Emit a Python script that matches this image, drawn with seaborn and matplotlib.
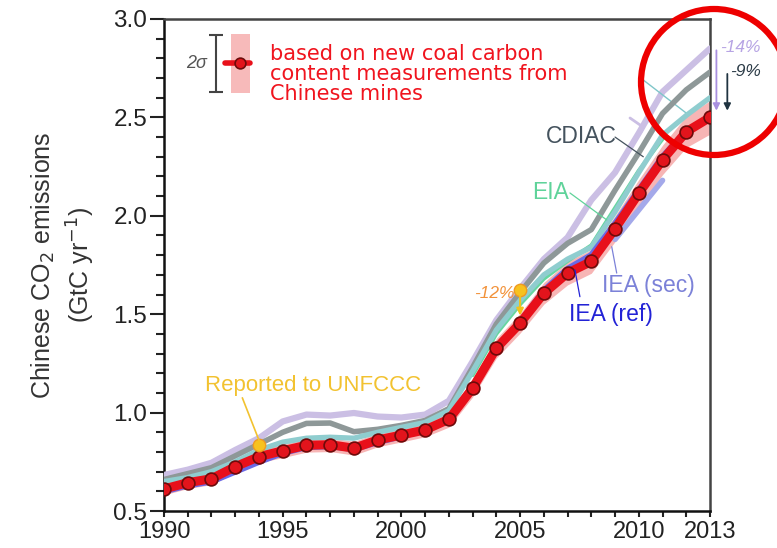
import numpy as np
import pandas as pd
import matplotlib
matplotlib.use("Agg")
import matplotlib.pyplot as plt
import seaborn as sns
from matplotlib.patches import Ellipse, Rectangle
from matplotlib.ticker import MultipleLocator, FixedLocator

# ---------------- data ----------------
years = list(range(1990, 2014))
new_coal = [0.612, 0.644, 0.664, 0.725, 0.776, 0.806, 0.834, 0.837, 0.819, 0.861,
            0.886, 0.912, 0.966, 1.124, 1.327, 1.454, 1.606, 1.709, 1.768, 1.934,
            2.114, 2.284, 2.427, 2.500]
new_coal_unc = [0.03, 0.03, 0.03, 0.03, 0.03, 0.035, 0.035, 0.035, 0.035, 0.035,
                0.035, 0.035, 0.04, 0.045, 0.05, 0.05, 0.055, 0.06, 0.06, 0.065,
                0.07, 0.075, 0.08, 0.085]
top_series = [0.683, 0.710, 0.745, 0.810, 0.870, 0.955, 0.990, 0.985, 0.998, 0.980,
              0.975, 0.990, 1.060, 1.260, 1.470, 1.630, 1.780, 1.890, 2.080, 2.220,
              2.420, 2.630, 2.740, 2.850]
cdiac = [0.660, 0.690, 0.720, 0.780, 0.840, 0.900, 0.945, 0.947, 0.903, 0.915,
         0.935, 0.960, 1.020, 1.230, 1.450, 1.610, 1.760, 1.860, 1.930, 2.130,
         2.320, 2.520, 2.640, 2.730]
teal = [0.650, 0.670, 0.700, 0.750, 0.810, 0.850, 0.870, 0.875, 0.870, 0.900,
        0.925, 0.950, 1.010, 1.210, 1.420, 1.570, 1.700, 1.780, 1.840, 2.020,
        2.220, 2.410, 2.510, 2.600]
eia_years = list(range(2003, 2012))
eia = [1.190, 1.400, 1.550, 1.680, 1.770, 1.850, 2.040, 2.230, 2.390]
iea_ref = [0.600, 0.630, 0.650, 0.700, 0.750, 0.795, 0.825, 0.830, 0.815, 0.850,
           0.880, 0.910, 0.960, 1.120, 1.320, 1.460, 1.620, 1.730, 1.800, 1.960,
           2.130, 2.300, 2.430]
iea_sec_years = [2009, 2010, 2011]
iea_sec = [1.880, 2.030, 2.180]
unfccc_year, unfccc_val = 1994, 0.835
alt2005_year, alt2005_val = 2005, 1.623

x_ticks = [1990, 1995, 2000, 2005, 2010, 2013]
y_ticks = [0.5, 1.0, 1.5, 2.0, 2.5, 3.0]

# ---------------- style ----------------
sns.set_style("ticks")
plt.rcParams['font.family'] = ['Liberation Sans', 'DejaVu Sans']

fig = plt.figure(figsize=(7.77, 5.48), dpi=100)
ax = fig.add_axes([164/777, 1-511/548, (710-164)/777, (511-19)/548])

df_main = pd.DataFrame({"year": years, "new": new_coal,
                        "lo": np.array(new_coal) - np.array(new_coal_unc),
                        "hi": np.array(new_coal) + np.array(new_coal_unc),
                        "top": top_series, "cdiac": cdiac, "teal": teal})

# uncertainty band
ax.fill_between(df_main["year"], df_main["lo"], df_main["hi"], color="#f5a3a3",
                alpha=0.8, lw=0, zorder=2)

sns.lineplot(data=df_main, x="year", y="top", ax=ax, color="#cbbfe4", lw=4.5, zorder=3)
sns.lineplot(data=df_main, x="year", y="cdiac", ax=ax, color="#8e9898", lw=4.0, zorder=4)
sns.lineplot(x=eia_years, y=eia, ax=ax, color="#66d6a0", lw=2.8, zorder=4.5)
sns.lineplot(data=df_main, x="year", y="teal", ax=ax, color="#8fcdcf", lw=3.8, zorder=5)
sns.lineplot(x=years[:len(iea_ref)], y=iea_ref, ax=ax, color="#6a6ae6", lw=4.5, zorder=6)
sns.lineplot(x=iea_sec_years, y=iea_sec, ax=ax, color="#a4a9ea", lw=4.0, zorder=6)
sns.lineplot(data=df_main, x="year", y="new", ax=ax, color="#e8101a", lw=6.5, zorder=7)
sns.scatterplot(data=df_main, x="year", y="new", ax=ax, s=85, color="#e2141c",
                edgecolor="#6e0a0a", linewidth=1.2, zorder=8)

# reported points
ax.scatter([unfccc_year], [unfccc_val], s=80, color="#f7c21e", edgecolor="#f09a20",
           linewidth=1.0, zorder=9)
ax.scatter([alt2005_year], [alt2005_val], s=80, color="#f7c21e", edgecolor="#f09a20",
           linewidth=1.0, zorder=9)
ax.annotate("", xy=(alt2005_year, new_coal[15] + 0.025), xytext=(alt2005_year, alt2005_val - 0.02),
            arrowprops=dict(arrowstyle="-|>", color="#f2c21c", lw=1.5, mutation_scale=10), zorder=9)

# axes
ax.set_xlim(1990, 2013)
ax.set_ylim(0.5, 3.0)
ax.set_xlabel("")
ax.set_ylabel("Chinese CO$_2$ emissions\n(GtC yr$^{-1}$)", fontsize=18, color="#333333",
              labelpad=12, linespacing=1.3)
ax.xaxis.set_major_locator(FixedLocator(x_ticks))
ax.xaxis.set_minor_locator(MultipleLocator(1))
ax.yaxis.set_major_locator(FixedLocator(y_ticks))
ax.yaxis.set_minor_locator(MultipleLocator(0.1))
ax.set_xticklabels([str(t) for t in x_ticks])
ax.set_yticklabels([f"{t:.1f}" for t in y_ticks])
ax.tick_params(axis="y", which="major", length=10, width=1.5, labelsize=17.5,
               colors="#222222", pad=2)
ax.tick_params(axis="y", which="minor", length=5.5, width=1.5, colors="#222222")
ax.tick_params(axis="x", which="both", length=4.5, width=1.5, labelsize=17,
               colors="#222222", pad=3)
for s in ["left", "bottom"]:
    ax.spines[s].set_linewidth(1.8)
    ax.spines[s].set_color("#111111")
for s in ["top", "right"]:
    ax.spines[s].set_visible(True)
    ax.spines[s].set_linewidth(1.8)
    ax.spines[s].set_color("#444444")

# labels
lab_kw = dict(fontsize=16.5, va="center", ha="left", zorder=10)
ax.text(2006.1, 2.405, "CDIAC", color="#45535e", **lab_kw)
ax.plot([2009.0, 2010.19], [2.40, 2.30], color="#45535e", lw=0.9, zorder=10)
ax.text(2005.5, 2.116, "EIA", color="#5fd39a", **lab_kw)
ax.plot([2007.1, 2008.65], [2.116, 1.979], color="#5fd39a", lw=0.9, zorder=10)
ax.text(2008.45, 1.648, "IEA (sec)", color="#7c82d8", **lab_kw)
ax.plot([2009.07, 2008.86], [1.709, 1.843], color="#7c82d8", lw=0.9, zorder=10)
ax.text(2007.05, 1.496, "IEA (ref)", color="#2323d6", **lab_kw)
ax.plot([2007.52, 2007.31], [1.589, 1.725], color="#2323d6", lw=0.9, zorder=10)
ax.text(1991.72, 1.14, "Reported to UNFCCC", color="#f2c230", fontsize=16,
        va="center", ha="left", zorder=10)
ax.plot([1993.3, 1994.0], [1.075, 0.86], color="#f2c230", lw=1.2, zorder=10)
ax.text(2004.75, 1.605, "-12%", color="#f2923a", fontsize=12.5, style="italic",
        va="center", ha="right", zorder=10)

# right-side arrows (outside axes)
ax.annotate("", xy=(2013.27, 2.52), xytext=(2013.27, 2.855),
            arrowprops=dict(arrowstyle="-|>", color="#a88fe0", lw=1.3, mutation_scale=10),
            annotation_clip=False)
ax.text(2013.42, 2.855, "-14%", color="#b7a4e4", fontsize=12.5, style="italic",
        va="center", ha="left", clip_on=False)
ax.annotate("", xy=(2013.73, 2.52), xytext=(2013.73, 2.735),
            arrowprops=dict(arrowstyle="-|>", color="#1f3340", lw=1.3, mutation_scale=10),
            annotation_clip=False)
ax.text(2013.83, 2.735, "-9%", color="#2a3a46", fontsize=12.5, style="italic",
        va="center", ha="left", clip_on=False)
# thin teal leader and small lavender hook near top right
ax.plot([2010.19, 2012.02], [2.69, 2.52], color="#7fc6c9", lw=1.0, zorder=3)
ax.plot([2009.63, 2010.18, 2010.1], [2.497, 2.451, 2.426], color="#cbbfe4", lw=2.0, zorder=3)

# legend-like key
ax.errorbar([1992.19], [2.774], yerr=[[0.145], [0.145]], fmt="none", ecolor="#444444",
            elinewidth=1.5, capsize=5, capthick=1.5, zorder=10)
ax.add_patch(Rectangle((1992.83, 2.625), 0.80, 0.30, facecolor="#f5a3a3", alpha=0.75,
                       edgecolor="none", zorder=9))
ax.plot([1992.55, 1993.63], [2.774, 2.774], color="#e8101a", lw=4, zorder=10)
ax.scatter([1993.22], [2.774], s=60, color="#e2141c", edgecolor="#6e0a0a",
           linewidth=1.2, zorder=11)
ax.text(1991.35, 2.774, "2σ", color="#555555", fontsize=13, style="italic",
        va="center", ha="center", zorder=10)
ax.text(1994.47, 2.72, "based on new coal carbon\ncontent measurements from\nChinese mines",
        color="#f0141e", fontsize=15, va="center", ha="left", linespacing=0.98,
        family=["DejaVu Sans"], zorder=10)

# big red highlight circle (figure coords)
fig.patches.append(Ellipse((714/777, 1-82/548), 146/777, 146/548, transform=fig.transFigure,
                           facecolor="none", edgecolor="#ee0000", lw=4.5, zorder=20))

fig.savefig("out.png", dpi=100)
